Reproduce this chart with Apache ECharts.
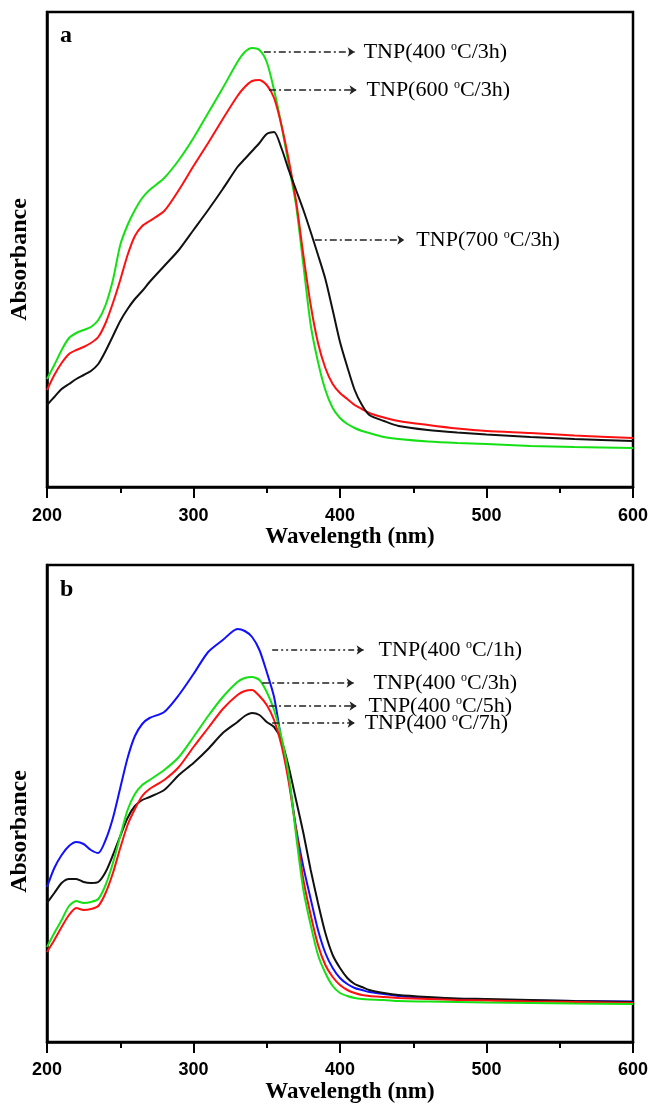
<!DOCTYPE html>
<html>
<head>
<meta charset="utf-8">
<script src="https://cdn.jsdelivr.net/npm/echarts@6/dist/echarts.min.js"></script>
<style>
html,body{margin:0;padding:0;background:#fff;}
#chart{width:652px;height:1106px;}
</style>
</head>
<body>
<div id="chart"></div>
<script>
// Wavelength grid (nm)
const wavelengths = [200,205,210,215,220,225,230,235,240,245,250,255,260,265,270,280,290,300,310,320,330,335,340,345,350,355,360,365,370,375,380,385,390,395,400,405,410,415,420,430,440,460,480,500,530,560,600];
const xTicks = [200,300,400,500,600];

// Panel a (arbitrary absorbance units)
const absA_400_3h = [108,122,137,149,154,157,160,167,182,207,242,262,277,289,297,309,327,349,374,399,425,435,439,437,425,397,362,322,282,222,162,125,97,79,69,63,59,56,54,50,48,45.5,44,43,41,40,39];
const absA_600_3h = [97,112,124,133,137,140,144,150,164,184,207,232,251,261,266,276,297,321,344,368,391,400,406,407,402,389,362,327,286,232,182,144,119,103,94,88,82,78,74,69.5,66,62,58.5,56,54,51.5,49];
const absA_700_3h = [82,90,98,103,108,112,116,123,136,151,166,178,188,196,205,221,237,257,277,298,320,328,336,344,353,355,339,317,297,277,255,232,208,177,145,120,97,82,72,66,61,57,54.5,52.5,50,48,46];

// Panel b
const absB_400_1h = [155,174,187,196,200,198,192,189,202,224,254,284,306,318,324,330,347,368,390,402,413,411,405,392,370,345,302,264,214,175,143,112,89,74,64,58,54,52,50,48,46,44,43,42,41.5,41,40.5];
const absB_400_3h = [95,109,122,136,141,139,140,143,157,179,206,232,248,257,262,272,285,305,326,345,360,364,365,362,350,332,305,267,207,152,117,87,69,56,49,46,44,43,42.5,42,41,40.5,40,39.5,39,38.5,38];
const absB_400_5h = [90,102,115,127,134,132,133,136,149,169,194,217,233,246,253,262,275,295,314,333,347,351,352,346,337,322,297,260,212,162,127,97,77,65,57,52,49,47,46,45,44,43,42,41.5,40.5,40,39];
const absB_400_7h = [139,149,159,163,163,160,159,160,170,187,206,224,236,242,245,252,267,279,293,309,320,326,329,327,320,315,302,275,242,209,172,139,109,87,74,64,58,55,52,49,47,45,43.5,43,42,41,40];

// Annotation labels and anchors (data units: [wavelength, absorbance])
const annA = [
  {text:'400', time:'3h', from:[348,435], to:[410,435], dist:9,  dash:[7,3,2,3]},
  {text:'600', time:'3h', from:[351.6,397], to:[411.3,397], dist:10, dash:[7,3,2,3]},
  {text:'700', time:'3h', from:[382.8,247], to:[443.9,247], dist:12, dash:[7,3,2,3]}
];
const annB = [
  {text:'400', time:'1h', from:[353.7,392], to:[416.1,392], dist:15, dash:[6,3,2,3,2,3]},
  {text:'400', time:'3h', from:[346.9,359], to:[409.3,359], dist:20, dash:[7,3,2,3]},
  {text:'400', time:'5h', from:[351.6,336], to:[411.3,336], dist:12, dash:[7,3,2,3]},
  {text:'400', time:'7h', from:[353.7,319], to:[410,319], dist:10, dash:[7,3,2,3]}
];

const chart = echarts.init(document.getElementById('chart'), null, {renderer:'canvas'});

const serif = 'Liberation Serif';
const sans = 'Liberation Sans';

function xAxis(gridIndex, margin) {
  return {
    type:'value', gridIndex, min:200, max:600, interval:100,
    name:'Wavelength (nm)', nameLocation:'middle', nameGap:39,
    nameTextStyle:{fontFamily:serif, fontWeight:'bold', fontSize:23, color:'#000', padding:[0,0,0,20]},
    axisLine:{show:true, onZero:false, lineStyle:{color:'#000', width:2.5}},
    axisTick:{show:true, inside:false, length:11, lineStyle:{color:'#000', width:2}},
    minorTick:{show:true, splitNumber:2, length:6, lineStyle:{color:'#000', width:2}},
    axisLabel:{fontFamily:sans, fontWeight:'bold', fontSize:18, color:'#000', margin,
      formatter: v => xTicks.includes(v) ? String(v) : ''},
    splitLine:{show:false}, minorSplitLine:{show:false}
  };
}
function yAxis(gridIndex, max, padRight) {
  return {
    type:'value', gridIndex, min:0, max,
    name:'Absorbance', nameLocation:'middle', nameGap:15,
    nameTextStyle:{fontFamily:serif, fontWeight:'bold', fontSize:24, color:'#000', padding:[0,padRight,0,0]},
    axisLine:{show:true, lineStyle:{color:'#000', width:2.5}},
    axisTick:{show:false}, axisLabel:{show:false}, splitLine:{show:false}
  };
}
function curve(name, arr, color, xi, yi) {
  return {
    type:'line', name, xAxisIndex:xi, yAxisIndex:yi,
    data: wavelengths.map((w,i)=>[w, arr[i]]),
    showSymbol:false, smooth:0.25, lineStyle:{color, width:2}, itemStyle:{color},
    silent:true, z:3
  };
}
function annotation(a, xi, yi) {
  return {
    type:'line', xAxisIndex:xi, yAxisIndex:yi, data:[], silent:true,
    markLine:{
      silent:true, animation:false,
      symbol:['none','arrow'], symbolSize:7,
      lineStyle:{color:'#222', width:1.5, type:a.dash},
      label:{show:true, position:'end', distance:a.dist, color:'#000',
        formatter: () => '{t|TNP(' + a.text + ' }{s|o}{t|C/' + a.time + ')}',
        rich:{
          t:{fontFamily:serif, fontSize:22, color:'#000', lineHeight:22},
          s:{fontFamily:serif, fontSize:12, color:'#000', verticalAlign:'top', lineHeight:22}
        }},
      data:[[{coord:a.from},{coord:a.to}]]
    }
  };
}

const series = [
  curve('TNP(400 °C/3h)', absA_400_3h, '#14e014', 0, 0),
  curve('TNP(600 °C/3h)', absA_600_3h, '#ff1010', 0, 0),
  curve('TNP(700 °C/3h)', absA_700_3h, '#111111', 0, 0),
  curve('TNP(400 °C/1h)', absB_400_1h, '#1010ff', 1, 1),
  curve('TNP(400 °C/7h)', absB_400_7h, '#111111', 1, 1),
  curve('TNP(400 °C/5h)', absB_400_5h, '#ff1010', 1, 1),
  curve('TNP(400 °C/3h)', absB_400_3h, '#14e014', 1, 1)
];
annA.forEach(a => series.push(annotation(a, 0, 0)));
annB.forEach(a => series.push(annotation(a, 1, 1)));

chart.setOption({
  animation:false,
  backgroundColor:'#fff',
  title:[
    {text:'a', left:55, top:19, textStyle:{fontFamily:serif, fontWeight:'bold', fontSize:24, color:'#000'}},
    {text:'b', left:55, top:573, textStyle:{fontFamily:serif, fontWeight:'bold', fontSize:24, color:'#000'}}
  ],
  grid:[
    {left:43.5, right:19, top:12, bottom:619, show:true, borderColor:'#000', borderWidth:2.5, backgroundColor:'transparent', containLabel:false},
    {left:43.5, right:19, top:565, bottom:64, show:true, borderColor:'#000', borderWidth:2.5, backgroundColor:'transparent', containLabel:false}
  ],
  xAxis:[xAxis(0, 20), xAxis(1, 19)],
  yAxis:[yAxis(0, 475, 20), yAxis(1, 477, 56)],
  series
});
</script>
</body>
</html>
